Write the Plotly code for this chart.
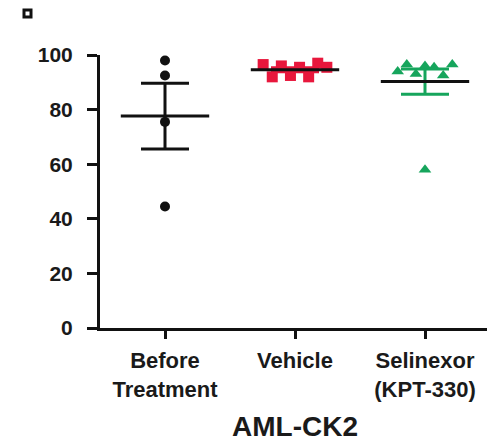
import numpy as np
import plotly.graph_objects as go

categories = ["Before<br>Treatment", "Vehicle", "Selinexor<br>(KPT-330)"]
before_vals = [98, 92.5, 75.5, 44.5]
vehicle_vals = [96.5, 92, 96, 92.5, 95.5, 92, 97, 95.5]
selinexor_vals = [94, 96.5, 93, 96, 58, 95.5, 92.5, 96.5]
y_ticks = [0, 20, 40, 60, 80, 100]
x_title = "AML-CK2"

groups = [before_vals, vehicle_vals, selinexor_vals]
colors = ["#111111", "#e8173c", "#16a55c"]
symbols = ["circle", "square", "triangle-up"]
msizes = [10, 11, 11]


def spread(vals, gap=4.0):
    vals = np.asarray(vals, float)
    order = np.argsort(vals)
    offs = np.zeros(len(vals))
    clusters, cur = [], [order[0]]
    for a, b in zip(order[:-1], order[1:]):
        if vals[b] - vals[a] < gap:
            cur.append(b)
        else:
            clusters.append(cur)
            cur = [b]
    clusters.append(cur)
    for c in clusters:
        if len(c) > 1:
            c_sorted = sorted(c)
            half = 0.035 * (len(c) - 1)
            pos = np.linspace(-half, half, len(c))
            for idx, p in zip(c_sorted, pos):
                offs[idx] = p
    return offs


fig = go.Figure()
for i, (vals, col, sym, ms) in enumerate(zip(groups, colors, symbols, msizes)):
    v = np.asarray(vals, float)
    m = v.mean()
    sem = v.std(ddof=1) / np.sqrt(len(v))
    fig.add_trace(go.Scatter(
        x=[i], y=[m], mode="markers", marker=dict(size=0.1, color=col, opacity=0),
        error_y=dict(type="data", array=[sem], width=24, thickness=3, color=col),
        showlegend=False, hoverinfo="skip"))
    fig.add_trace(go.Scatter(
        x=i + spread(v), y=v, mode="markers",
        marker=dict(symbol=sym, size=ms, color=col, line=dict(width=0)),
        showlegend=False, cliponaxis=False))
    fig.add_trace(go.Scatter(
        x=[i - 0.34, i + 0.34], y=[m, m], mode="lines",
        line=dict(color="#111111", width=3), showlegend=False, hoverinfo="skip"))

fig.update_layout(
    width=487, height=434,
    margin=dict(l=92, r=5, t=47, b=114),
    paper_bgcolor="white", plot_bgcolor="white",
    font=dict(family="Liberation Sans, Arial, sans-serif", color="#1a1a1a"),
    xaxis=dict(
        automargin=False,
        range=[-0.5, 2.5], tickmode="array", tickvals=[0, 1, 2],
        ticktext=[f"<b>{c}</b>".replace("<br>", "</b><br><b>") for c in categories],
        showline=True, linecolor="#111111", linewidth=3, ticks="outside", ticklen=8, tickwidth=3,
        tickcolor="#111111", showgrid=False, zeroline=False,
        tickfont=dict(size=22, color="#1a1a1a"), ticklabelstandoff=3,
        title=dict(text=f"<b>{x_title}</b>", font=dict(size=28, color="#1a1a1a"), standoff=23),
    ),
    yaxis=dict(
        automargin=False,
        range=[0, 100], tickmode="array", tickvals=y_ticks, ticktext=[f"<b>{t}</b>" for t in y_ticks],
        showline=True, linecolor="#111111", linewidth=3, ticks="outside", ticklen=10, tickwidth=3,
        tickcolor="#111111", showgrid=False, zeroline=False,
        tickfont=dict(size=21, color="#1a1a1a"), ticklabelstandoff=10,
    ),
    shapes=[dict(type="rect", xref="paper", yref="paper",
                 x0=(24 - 100) / 390, x1=(31 - 100) / 390,
                 y0=(328 - 17) / 273, y1=(328 - 10) / 273,
                 line=dict(color="#111111", width=3), fillcolor="white")],
)

fig.write_html("out.html")
